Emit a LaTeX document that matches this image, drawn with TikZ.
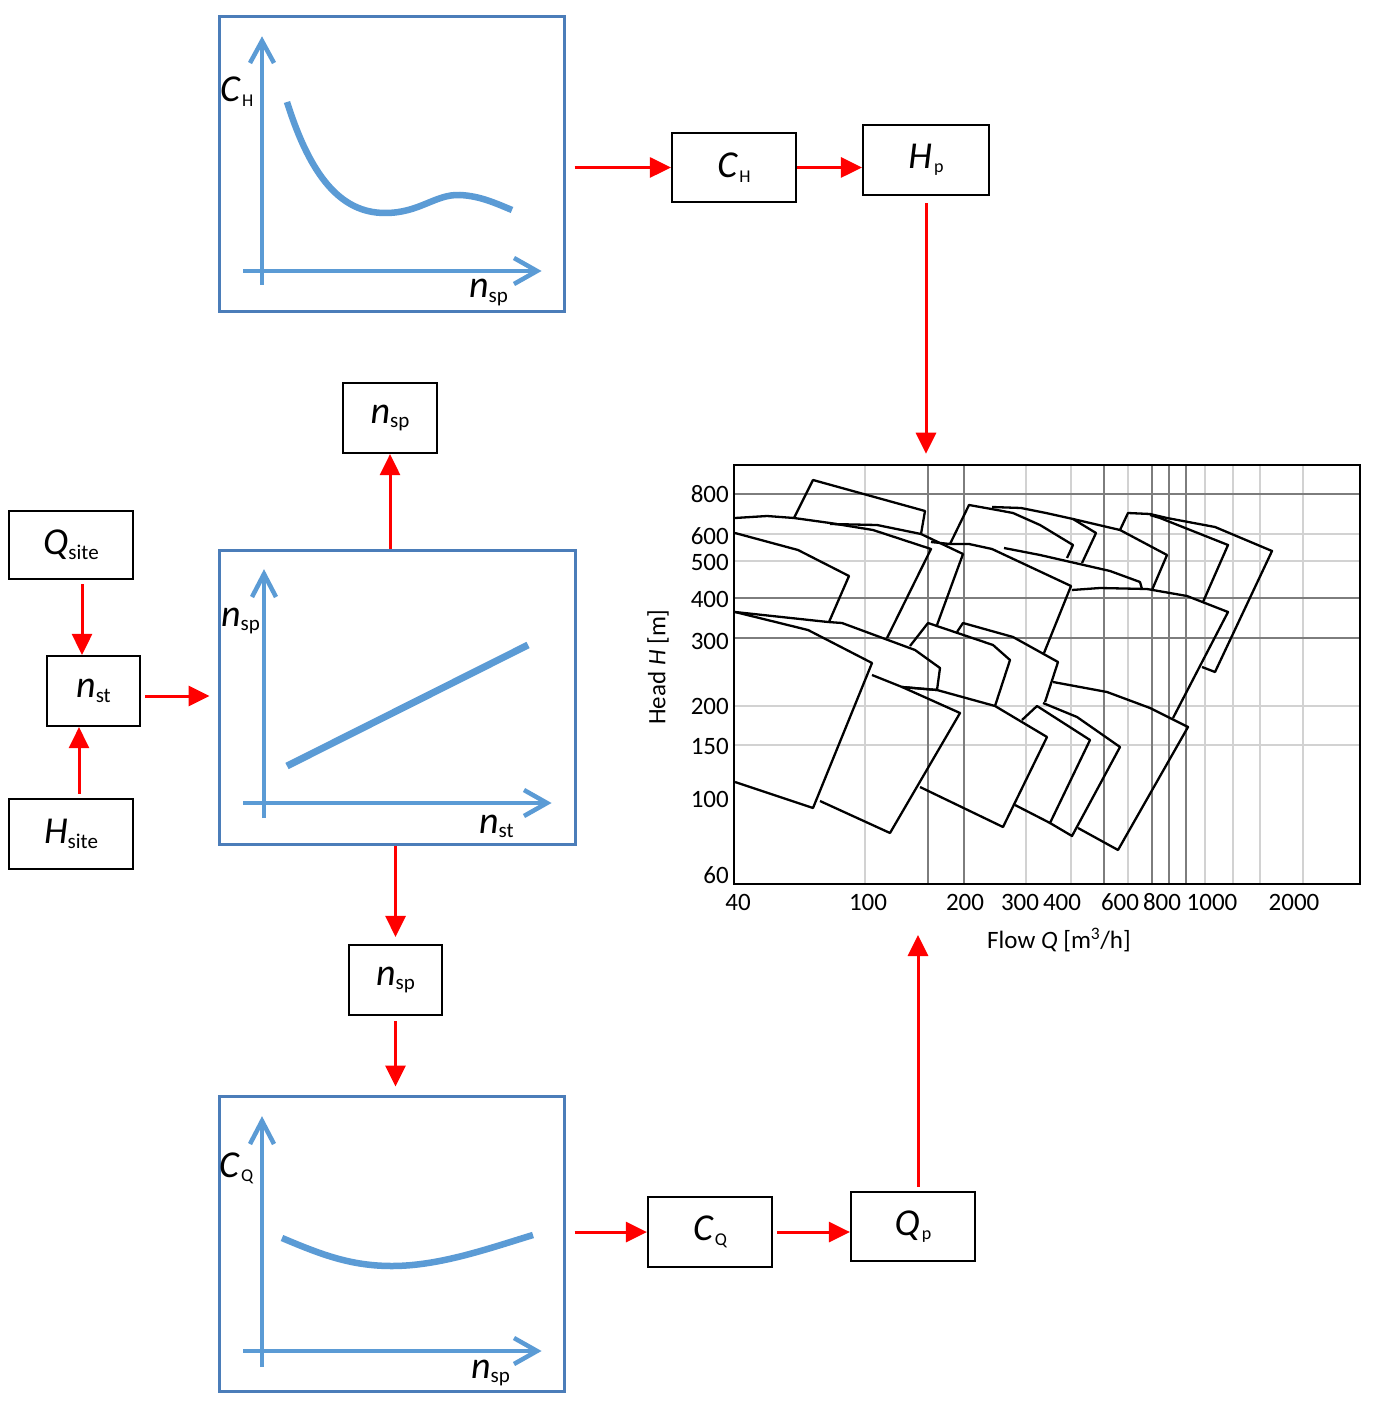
\documentclass[tikz,border=0pt]{standalone}
\usepackage{fontspec}
\setmainfont{Carlito}
\usetikzlibrary{arrows.meta}
\definecolor{boxblue}{RGB}{75,125,185}
\definecolor{axblue}{RGB}{91,155,213}
\definecolor{arrred}{RGB}{255,0,0}
\definecolor{gdark}{RGB}{125,125,125}
\definecolor{glight}{RGB}{210,210,210}
\newcommand{\symA}[2]{{\fontsize{38}{38}\selectfont\itshape #1}\raisebox{-4.5pt}{\fontsize{21}{21}\selectfont #2}}
\newcommand{\symB}[2]{{\fontsize{38}{38}\selectfont\itshape #1\kern2pt}\raisebox{-4.5pt}{\fontsize{18}{18}\selectfont #2}}
\begin{document}
\begin{tikzpicture}[x=1pt,y=-1pt,
  blkbox/.style={draw=black, line width=2.2pt, fill=white, inner sep=0pt},
  plotbox/.style={draw=boxblue, line width=3pt, inner sep=0pt},
  axisline/.style={draw=axblue, line width=4.5pt},
  curveline/.style={draw=axblue, line width=6.5pt},
  rarr/.style={draw=arrred, line width=3pt, -{Triangle[length=21pt,width=20pt]}},
  gridd/.style={draw=gdark, line width=1.4pt},
  gridl/.style={draw=glight, line width=1.4pt},
  pump/.style={draw=black, line width=2.3pt, line join=round},
  ticklbl/.style={font=\fontsize{25}{25}\selectfont, inner sep=0pt},
  plotlbl/.style={anchor=base west, inner sep=0pt},
]
\path[use as bounding box, fill=white] (0,0) rectangle (1378,1404);

% ---------- plot boxes ----------
\node[plotbox, minimum width=345pt, minimum height=294pt] (plotTop) at (391.5,164) {};
\node[plotbox, minimum width=356pt, minimum height=294pt] (plotMid) at (397,697) {};
\node[plotbox, minimum width=345pt, minimum height=295pt] (plotBot) at (391.5,1243.5) {};

% top plot content
\draw[axisline] (262,285) -- (262,41);
\draw[axisline] (250,63) -- (262,41) -- (274,63);
\draw[axisline] (243,271) -- (537,271);
\draw[axisline] (514,258) -- (537,271) -- (514,284);
\draw[curveline] (287,102) .. controls (310,175) and (340,213) .. (385,213)
   .. controls (420,213) and (435,194) .. (460,195)
   .. controls (480,196) and (495,203) .. (512,210);
\node[plotlbl] (lblTopY) at (220,102) {\symB{C}{H}};
\node[plotlbl] (lblTopX) at (469,298) {\symA{n}{sp}};

% middle plot content
\draw[axisline] (264,818) -- (264,574);
\draw[axisline] (252,597) -- (264,574) -- (276,597);
\draw[axisline] (243,803) -- (547,803);
\draw[axisline] (524,790) -- (547,803) -- (524,816);
\draw[curveline, line width=7pt] (287,766) -- (528,645);
\node[plotlbl] (lblMidY) at (221,626) {\symA{n}{sp}};
\node[plotlbl] (lblMidX) at (479,833) {\symA{n}{st}};

% bottom plot content
\draw[axisline] (262,1367) -- (262,1121);
\draw[axisline] (250,1144) -- (262,1121) -- (274,1144);
\draw[axisline] (243,1351) -- (537,1351);
\draw[axisline] (514,1338) -- (537,1351) -- (514,1364);
\draw[curveline] (282,1238) .. controls (320,1254) and (350,1266) .. (392,1266)
   .. controls (440,1266) and (490,1248) .. (533,1235);
\node[plotlbl] (lblBotY) at (219,1177) {\symB{C}{Q}};
\node[plotlbl] (lblBotX) at (471,1378) {\symA{n}{sp}};

% ---------- chart ----------
\foreach \yy in {534,561,706,745} \draw[gridl] (734,\yy) -- (1360,\yy);
\foreach \xx in {865,1026,1071,1128,1205,1233,1260,1303} \draw[gridl] (\xx,465) -- (\xx,884);
\foreach \yy in {494,598,638} \draw[gridd] (734,\yy) -- (1360,\yy);
\foreach \xx in {928,964,1104,1152,1169,1186} \draw[gridd] (\xx,465) -- (\xx,884);

\draw[pump] (794,518) -- (813,480) -- (925,511) -- (921,534);
\draw[pump] (735,518) -- (767,516) -- (794,518) -- (830,523) -- (873,530) -- (931,549) -- (887,638);
\draw[pump] (830,524) -- (877,525) -- (921,534) -- (963,554) -- (937,625);
\draw[pump] (735,533) -- (798,550) -- (849,576) -- (829,622);
\draw[pump] (950,544) -- (969,505) -- (997,510) -- (1013,513) -- (1040,525) -- (1073,545) -- (1067,558);
\draw[pump] (992,507) -- (1021,508) -- (1046,513) -- (1073,519) -- (1096,533) -- (1082,563);
\draw[pump] (1073,519) -- (1120,530) -- (1167,555) -- (1152,590);
\draw[pump] (1120,530) -- (1128,513) -- (1150,514) -- (1167,518) -- (1215,527) -- (1272,551) -- (1215,672) -- (1202,667);
\draw[pump] (1150,515) -- (1160,518) -- (1228,545) -- (1203,602);
\draw[pump] (1004,548) -- (1040,555) -- (1110,571) -- (1140,582) -- (1142,589);
\draw[pump] (931,542) -- (950,544) -- (969,544) -- (992,549) -- (1071,586) -- (1044,653);
\draw[pump] (1072,590) -- (1100,588) -- (1147,589) -- (1187,596) -- (1228,612) -- (1173,718);
\draw[pump] (957,632) -- (963,623) -- (1013,637) -- (1058,662) -- (1045,702);
\draw[pump] (910,646) -- (928,623) -- (993,645) -- (1010,660) -- (995,706);
\draw[pump] (735,612) -- (828,622) -- (842,623) -- (915,650) -- (940,668) -- (937,690) -- (902,687);
\draw[pump] (735,612) -- (808,630) -- (872,663) -- (813,808) -- (735,782);
\draw[pump] (872,675) -- (902,687) -- (960,713) -- (890,833) -- (820,801);
\draw[pump] (902,687) -- (937,690) -- (995,706) -- (1047,737) -- (1003,827) -- (920,787);
\draw[pump] (1022,720) -- (1037,706) -- (1090,740) -- (1050,823) -- (1015,805);
\draw[pump] (1043,703) -- (1077,717) -- (1120,747) -- (1072,836) -- (1050,823);
\draw[pump] (1053,682) -- (1107,692) -- (1150,708) -- (1188,727) -- (1118,850) -- (1078,828);

\node[draw=black, line width=2.6pt, minimum width=626pt, minimum height=419pt, inner sep=0pt] (chart) at (1047,674.5) {};

\node[ticklbl, anchor=east] (y800) at (729,494) {800};
\node[ticklbl, anchor=east] (y600) at (729,536) {600};
\node[ticklbl, anchor=east] (y500) at (729,562) {500};
\node[ticklbl, anchor=east] (y400) at (729,599) {400};
\node[ticklbl, anchor=east] (y300) at (729,641) {300};
\node[ticklbl, anchor=east] (y200) at (729,706) {200};
\node[ticklbl, anchor=east] (y150) at (729,746) {150};
\node[ticklbl, anchor=east] (y100) at (729,799) {100};
\node[ticklbl, anchor=east] (y60) at (729,875) {60};
\node[ticklbl] (x40) at (738,902) {40};
\node[ticklbl] (x100) at (868,902) {100};
\node[ticklbl] (x200) at (965,902) {200};
\node[ticklbl] (x300) at (1020,902) {300};
\node[ticklbl] (x400) at (1062,902) {400};
\node[ticklbl] (x600) at (1120,902) {600};
\node[ticklbl] (x800) at (1162,902) {800};
\node[ticklbl] (x1000) at (1212,902) {1000};
\node[ticklbl] (x2000) at (1294,902) {2000};
\node[ticklbl] (xtitle) at (1059,940) {Flow \textit{Q} [m\textsuperscript{3}/h]};
\node[ticklbl, rotate=90] (ytitle) at (658,667) {Head \textit{H} [m]};

% ---------- black boxes ----------
\node[blkbox, minimum width=124pt, minimum height=68pt] (boxQsite) at (71,545) {\symA{Q}{site}};
\node[blkbox, minimum width=93pt, minimum height=70pt] (boxNst) at (93.5,691) {\symA{n}{st}};
\node[blkbox, minimum width=124pt, minimum height=70pt] (boxHsite) at (71,834) {\symA{H}{site}};
\node[blkbox, minimum width=94pt, minimum height=70pt] (boxNspA) at (390,418) {\symA{n}{sp}};
\node[blkbox, minimum width=124pt, minimum height=69pt] (boxCH) at (734,167.5) {\symB{C}{H}};
\node[blkbox, minimum width=126pt, minimum height=70pt] (boxHp) at (926,160) {\symB{H}{p}};
\node[blkbox, minimum width=93pt, minimum height=70pt] (boxNspB) at (395.5,980) {\symA{n}{sp}};
\node[blkbox, minimum width=124pt, minimum height=70pt] (boxCQ) at (710,1232) {\symB{C}{Q}};
\node[blkbox, minimum width=124pt, minimum height=69pt] (boxQp) at (913,1226.5) {\symB{Q}{p}};
\coordinate (qtip) at (918,935);

% ---------- red arrows ----------
\draw[rarr, shorten <=9pt] (plotTop.east |- boxCH.west) -- (boxCH.west);
\draw[rarr] (boxCH.east) -- (boxCH.east -| boxHp.west);
\draw[rarr, shorten <=7pt, shorten >=10pt] (boxHp.south) -- (boxHp.south |- chart.north);
\draw[rarr, shorten <=4pt] (boxQp.north -| qtip) -- (qtip);
\draw[rarr] (plotMid.north -| boxNspA.south) -- (boxNspA.south);
\draw[rarr, shorten >=7pt] (plotMid.south -| boxNspB.north) -- (boxNspB.north);
\draw[rarr, shorten <=5pt, shorten >=8pt] (boxNspB.south) -- (boxNspB.south |- plotBot.north);
\draw[rarr, shorten <=4pt] ([xshift=11pt]boxQsite.south) -- ([xshift=11pt]boxQsite.south |- boxNst.north);
\draw[rarr, shorten <=4pt] ([xshift=8pt]boxHsite.north) -- ([xshift=8pt]boxHsite.north |- boxNst.south);
\draw[rarr, shorten <=4pt, shorten >=8pt] ([yshift=-5pt]boxNst.east) -- ([yshift=-5pt]boxNst.east -| plotMid.west);
\draw[rarr, shorten <=9pt] (plotBot.east |- boxCQ.west) -- (boxCQ.west);
\draw[rarr, shorten <=4pt] (boxCQ.east) -- (boxCQ.east -| boxQp.west);
\end{tikzpicture}
\end{document}
